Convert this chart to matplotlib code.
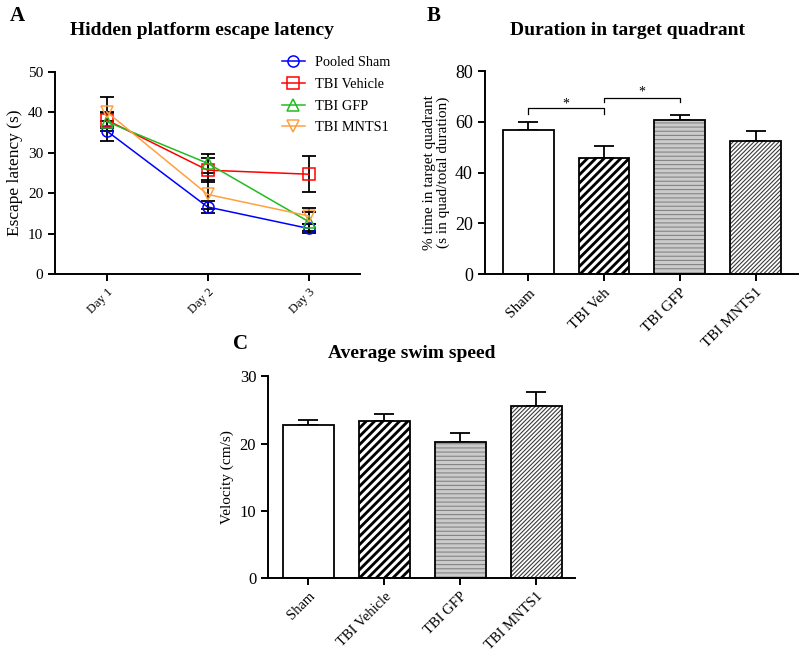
import numpy as np
import matplotlib
matplotlib.use('Agg')
import matplotlib.pyplot as plt

plt.rcParams['font.family'] = ['Liberation Serif', 'DejaVu Serif']
plt.rcParams['axes.linewidth'] = 1.4
plt.rcParams['xtick.major.width'] = 1.4
plt.rcParams['ytick.major.width'] = 1.4
plt.rcParams['xtick.major.size'] = 5
plt.rcParams['ytick.major.size'] = 5

# Panel A: escape latency
days = ['Day 1', 'Day 2', 'Day 3']
sham_lat = [35.4, 16.6, 11.3]
sham_err = [2.4, 1.6, 1.1]
veh_lat = [38.1, 25.7, 24.7]
veh_err = [2.0, 3.0, 4.5]
gfp_lat = [37.7, 27.4, 13.0]
gfp_err = [2.2, 2.3, 2.4]
mnts_lat = [40.1, 19.7, 14.4]
mnts_err = [3.7, 3.5, 2.0]

# Panel B: duration in target quadrant
groups_b = ['Sham', 'TBI Veh', 'TBI GFP', 'TBI MNTS1']
dur = [57.0, 45.8, 60.6, 52.5]
dur_err = [2.8, 4.9, 2.3, 3.9]

# Panel C: swim speed
groups_c = ['Sham', 'TBI Vehicle', 'TBI GFP', 'TBI MNTS1']
speed = [22.7, 23.3, 20.2, 25.65]
speed_err = [0.8, 1.1, 1.3, 2.0]

fig = plt.figure(figsize=(8, 6.59), dpi=100)


def style_axes(ax):
    ax.spines['top'].set_visible(False)
    ax.spines['right'].set_visible(False)
    ax.tick_params(direction='out')


def hatch_bar(ax, x, val, face, hcol, hatch, hlw):
    with plt.rc_context({'hatch.linewidth': hlw, 'hatch.color': hcol}):
        bars = ax.bar(x, val, width=0.67, color=face, edgecolor=hcol, hatch=hatch,
                      linewidth=0, zorder=2)
    for b in bars:
        if hasattr(b, 'set_hatch_linewidth'):
            b.set_hatch_linewidth(hlw)


def hatched_bars(ax, x, vals, errs):
    # white / black with white stripes / grey with lines / white with dense stripes
    ax.bar(x[0], vals[0], width=0.67, color='white', linewidth=0, zorder=2)
    hatch_bar(ax, x[1], vals[1], 'black', 'white', '////', 2.2)
    hatch_bar(ax, x[2], vals[2], '#cbcbcb', '#858585', '----', 0.8)
    hatch_bar(ax, x[3], vals[3], 'white', '#3a3a3a', '////////', 0.8)
    ax.bar(x, vals, width=0.67, fill=False, edgecolor='black', linewidth=1.3, zorder=3)
    ax.errorbar(x, vals, yerr=[np.zeros(len(vals)), errs], fmt='none', ecolor='black',
                elinewidth=1.3, capsize=7.5, capthick=1.3, zorder=1)


# ---- A ----
axA = fig.add_axes([0.069, 0.584, 0.381, 0.307])
xd = np.arange(len(days))
series = [('Pooled Sham', sham_lat, sham_err, 'o', 'blue'),
          ('TBI Vehicle', veh_lat, veh_err, 's', 'red'),
          ('TBI GFP', gfp_lat, gfp_err, '^', '#22bb22'),
          ('TBI MNTS1', mnts_lat, mnts_err, 'v', '#ffa040')]
handles = []
for name, vals, errs, mk, col in series:
    axA.errorbar(xd, vals, yerr=errs, fmt='none', ecolor='black', elinewidth=1.3,
                 capsize=5, capthick=1.3, zorder=1)
    h, = axA.plot(xd, vals, color=col, marker=mk, markersize=8, markerfacecolor='none',
                  markeredgecolor=col, markeredgewidth=1.1, linewidth=1.1, label=name, zorder=3)
    handles.append(h)
style_axes(axA)
axA.set_xlim(-0.51, 2.51)
axA.set_ylim(0, 50)
axA.set_yticks([0, 10, 20, 30, 40, 50])
axA.set_xticks(xd)
axA.set_xticklabels(days, rotation=45, ha='right', rotation_mode='anchor', fontsize=9)
axA.tick_params(axis='y', labelsize=11)
axA.set_ylabel('Escape latency (s)', fontsize=12.5, labelpad=4)
fig.legend(handles=handles, loc='upper left', bbox_to_anchor=(0.345, 0.924), frameon=False,
           fontsize=10.3, handlelength=1.6, handletextpad=0.7, labelspacing=0.62,
           borderaxespad=0)
fig.text(0.252, 0.953, 'Hidden platform escape latency', ha='center', va='center',
         fontsize=14, fontweight='bold')
fig.text(0.012, 0.976, 'A', ha='left', va='center', fontsize=15, fontweight='bold')

# ---- B ----
axB = fig.add_axes([0.606, 0.584, 0.391, 0.308])
xb = np.arange(len(groups_b))
hatched_bars(axB, xb, dur, dur_err)
style_axes(axB)
axB.set_xlim(-0.57, 3.55)
axB.set_ylim(0, 80)
axB.set_yticks([0, 20, 40, 60, 80])
axB.set_xticks(xb)
axB.set_xticklabels(groups_b, rotation=45, ha='right', rotation_mode='anchor', fontsize=11)
axB.tick_params(axis='y', labelsize=13)
axB.set_ylabel('% time in target quadrant\n(s in quad/total duration)', fontsize=11,
               linespacing=1.0)
# significance brackets
for (i, j, y, tick, star) in [(0, 1, 65.3, 2.0, 67.2), (1, 2, 69.5, 1.6, 71.8)]:
    axB.plot([xb[i], xb[i], xb[j], xb[j]], [y - tick, y, y, y - tick], color='black',
             linewidth=0.9)
    axB.text((xb[i] + xb[j]) / 2, star, '*', ha='center', va='center', fontsize=10)
fig.text(0.785, 0.953, 'Duration in target quadrant', ha='center', va='center',
         fontsize=14, fontweight='bold')
fig.text(0.533, 0.976, 'B', ha='left', va='center', fontsize=15, fontweight='bold')

# ---- C ----
axC = fig.add_axes([0.335, 0.123, 0.384, 0.306])
xc = np.arange(len(groups_c))
hatched_bars(axC, xc, speed, speed_err)
style_axes(axC)
axC.set_xlim(-0.53, 3.51)
axC.set_ylim(0, 30)
axC.set_yticks([0, 10, 20, 30])
axC.set_xticks(xc)
axC.set_xticklabels(groups_c, rotation=45, ha='right', rotation_mode='anchor', fontsize=10.5)
axC.tick_params(axis='y', labelsize=12)
axC.set_ylabel('Velocity (cm/s)', fontsize=11)
fig.text(0.515, 0.463, 'Average swim speed', ha='center', va='center',
         fontsize=14, fontweight='bold')
fig.text(0.291, 0.478, 'C', ha='left', va='center', fontsize=15, fontweight='bold')

fig.savefig('out.png', dpi=100)
